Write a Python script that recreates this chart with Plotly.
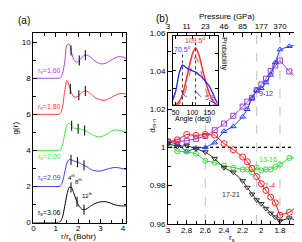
import plotly.graph_objects as go
import numpy as np

# ---------------- Panel (a): g(r) ----------------
r_grid = [0, 0.5, 1.0, 1.1, 1.2, 1.3, 1.4, 1.5, 1.6, 1.7, 1.8, 1.9, 2.0, 2.1, 2.2,
          2.3, 2.4, 2.5, 2.6, 2.8, 3.0, 3.2, 3.4, 3.6, 3.8, 4.0, 4.2]
g_rs160 = [0, 0, 0, 0, 0.02, 0.25, 0.9, 1.85, 1.9, 1.45, 1.05, 0.9, 0.92, 1.05, 1.2,
           1.28, 1.28, 1.22, 1.12, 0.92, 0.8, 0.82, 0.95, 1.1, 1.2, 1.18, 1.08]
g_rs180 = [0, 0, 0, 0, 0.05, 0.4, 1.3, 1.88, 1.6, 1.2, 0.98, 0.95, 1.02, 1.15, 1.25,
           1.3, 1.28, 1.2, 1.1, 0.9, 0.8, 0.78, 0.88, 1.02, 1.13, 1.16, 1.1]
g_rs200 = [0, 0, 0, 0, 0.03, 0.3, 0.9, 1.4, 1.5, 1.38, 1.25, 1.2, 1.2, 1.18, 1.15,
           1.1, 1.05, 0.97, 0.9, 0.78, 0.75, 0.85, 1.0, 1.13, 1.13, 1.05, 1.0]
g_rs209 = [0, 0, 0, 0, 0.02, 0.25, 0.8, 1.3, 1.5, 1.47, 1.42, 1.38, 1.33, 1.28, 1.22,
           1.15, 1.08, 1.0, 0.93, 0.86, 0.86, 0.93, 1.0, 1.05, 1.04, 0.98, 0.95]
g_rs306 = [0, 0, 0, 0, 0.05, 0.3, 0.9, 1.55, 1.95, 1.95, 1.65, 1.3, 1.0, 0.82, 0.72,
           0.72, 0.78, 0.86, 0.95, 1.08, 1.15, 1.16, 1.1, 1.0, 0.94, 0.92, 0.93]
curve_names = ["1.60", "1.80", "2.00", "2.09", "3.06"]
curve_offsets = [8, 6, 4, 2, 0]
curve_colors = ["#b044e6", "#ff3c3c", "#33ee33", "#3c3cff", "#000000"]
label_dy = [0.43, 0.38, -0.37, 0.45, 0.55]
neighbor_r = [[1.68, 2.05, 2.32], [1.65, 2.03, 2.32], [1.71, 2.0, 2.29],
              [1.68, 1.97, 2.26], [1.68, 1.95, 2.26]]
neighbor_labels = ["4<sup>th</sup>", "8<sup>th</sup>", "12<sup>th</sup>"]
neighbor_label_pos = [(1.72, 2.5), (2.02, 2.28), (2.42, 1.55)]

# ---------------- Panel (b): d_{m-n} ----------------
rs_b = [3.0, 2.9, 2.8, 2.7, 2.6, 2.5, 2.4, 2.3, 2.2, 2.15, 2.1, 2.05, 2.0, 1.95,
        1.9, 1.85, 1.8, 1.7, 1.6]
d_1_4 = [1.003, 1.004, 1.0068, 1.0063, 1.0068, 1.0065, 1.002, 0.9988, 0.995, 0.9925,
         0.989, 0.9847, 0.981, 0.9775, 0.974, 0.971, 0.9645, 0.966, 0.9697]
d_5_8 = [1.003, 1.003, 1.0035, 1.0045, 1.006, 1.009, 1.0125, 1.0166, 1.0214, 1.024,
         1.026, 1.030, 1.033, 1.036, 1.040, 1.043, 1.0455, 1.0398, 1.0354]
d_9_12 = [1.003, 1.0017, 0.9978, 0.9997, 1.0, 1.0025, 1.0085, 1.011, 1.016, 1.020,
          1.0258, 1.030, 1.031, 1.034, 1.038, 1.0445, 1.0513, 1.053, 1.054]
d_13_16 = [1.002, 0.998, 0.9978, 0.9968, 0.993, 0.992, 0.9905, 0.9893, 0.9885, 0.9885,
           0.987, 0.9895, 0.988, 0.9885, 0.9885, 0.9898, 0.991, 0.9945, 0.9945]
d_17_21 = [1.002, 1.0005, 1.001, 0.9993, 0.9976, 0.9942, 0.9894, 0.987, 0.9825, 0.979,
           0.9755, 0.9725, 0.9705, 0.968, 0.9655, 0.9635, 0.9615, 0.963, 0.9615]
pressure_tick_rs = [3.0, 2.8, 2.6, 2.4, 2.2, 2.0, 1.8]
pressure_labels = ["3", "11", "23", "46", "85", "177", "370"]
transition_rs = [2.6, 2.05, 1.8]

# ---------------- Inset: angle distribution ----------------
angle = [42, 50, 55, 60, 65, 70, 75, 80, 90, 100, 110, 120, 130, 140, 150, 160, 170, 180]
p_blue_solid = [0.08, 0.2, 0.32, 0.45, 0.53, 0.58, 0.57, 0.55, 0.52, 0.5, 0.48, 0.44,
                0.4, 0.34, 0.28, 0.18, 0.07, 0.0]
p_blue_dash = [0.1, 0.2, 0.26, 0.27, 0.24, 0.19, 0.15, 0.13, 0.14, 0.19, 0.2, 0.15,
               0.11, 0.09, 0.07, 0.05, 0.02, 0.0]
angle_red = [42, 50, 60, 70, 80, 90, 100, 109.5, 120, 130, 140, 150, 160, 170, 180]
p_red_solid = [0.0, 0.01, 0.05, 0.15, 0.33, 0.55, 0.74, 0.83, 0.72, 0.52, 0.33, 0.18,
               0.07, 0.02, 0.0]
p_red_inner = [0.0, 0.0, 0.02, 0.08, 0.22, 0.42, 0.6, 0.70, 0.6, 0.4, 0.22, 0.1, 0.03,
               0.0, 0.0]
special_angles = [70.5, 109.5]
special_heights = [0.78, 0.9]

FONT = "Liberation Sans, Arial, sans-serif"
W, H = 302, 242

def px(x):
    return x / W

def py(y):
    return 1 - y / H

fig = go.Figure()

# Panel (a) curves
for name, g, off, col, dy in zip(curve_names, [g_rs160, g_rs180, g_rs200, g_rs209, g_rs306],
                                 curve_offsets, curve_colors, label_dy):
    fig.add_trace(go.Scatter(x=r_grid, y=[v + off for v in g], mode="lines",
                             line=dict(color=col, width=1, shape="spline", smoothing=0.8),
                             xaxis="x", yaxis="y", showlegend=False))
    fig.add_annotation(x=0.12, y=off + dy, xref="x", yref="y", xanchor="left", yanchor="middle",
                       text=f"r<sub>s</sub>={name}", showarrow=False,
                       font=dict(size=7, color=col, family=FONT))

bx, by = [], []
for g, off, rt in zip([g_rs160, g_rs180, g_rs200, g_rs209, g_rs306], curve_offsets, neighbor_r):
    for r in rt:
        yc = float(np.interp(r, r_grid, g)) + off
        bx += [r, r, None]
        by += [yc - 0.28, yc + 0.28, None]
fig.add_trace(go.Scatter(x=bx, y=by, mode="lines", line=dict(color="black", width=1),
                         xaxis="x", yaxis="y", showlegend=False))
for lab, (lx, ly) in zip(neighbor_labels, neighbor_label_pos):
    fig.add_annotation(x=lx, y=ly, xref="x", yref="y", text=lab, showarrow=False,
                       xanchor="center", yanchor="middle",
                       font=dict(size=6, color="black", family=FONT))

# Panel (b)
series = [
    (d_5_8, "#a040d0", "square-open", 5, "5-8", 2.55, 1.026),
    (d_9_12, "#2040ff", "triangle-up-open", 5, "9-12", 1.955, 1.0285),
    (d_13_16, "#33dd33", "circle-open", 5, "13-16", 1.93, 0.9938),
    (d_1_4, "#ff2020", "circle-open", 6, "1-4", 1.91, 0.980),
    (d_17_21, "#303030", "triangle-down-open", 5, "17-21", 2.33, 0.9756),
]
for i, rs in enumerate(transition_rs):
    ytop = 1.021 if i == 0 else 1.06
    fig.add_trace(go.Scatter(x=[rs, rs], y=[0.96, ytop], mode="lines",
                             line=dict(color="#c8c8c8", width=1.2, dash="dash"),
                             xaxis="x2", yaxis="y2", showlegend=False))
fig.add_trace(go.Scatter(x=[rs_b[0], rs_b[-1]], y=[1, 1], mode="lines",
                         line=dict(color="black", width=1.2, dash="dot"),
                         xaxis="x2", yaxis="y2", showlegend=False))
for d, col, sym, msz, lab, lx, ly in series:
    fig.add_trace(go.Scatter(x=rs_b, y=d, mode="lines+markers",
                             line=dict(color=col, width=1),
                             marker=dict(symbol=sym, size=msz, color=col, line=dict(width=1, color=col)),
                             xaxis="x2", yaxis="y2", showlegend=False))
    fig.add_annotation(x=lx, y=ly, xref="x2", yref="y2", text=lab, showarrow=False,
                       xanchor="center", yanchor="middle",
                       font=dict(size=7, color=col, family=FONT))
# dummy trace for top pressure axis
fig.add_trace(go.Scatter(x=[rs_b[0]], y=[1], mode="markers", marker=dict(opacity=0),
                         xaxis="x3", yaxis="y2", showlegend=False, hoverinfo="skip"))

# Inset
fig.add_trace(go.Scatter(x=angle_red, y=p_red_solid, mode="lines",
                         line=dict(color="#ff3030", width=1.5, shape="spline", smoothing=0.5),
                         xaxis="x4", yaxis="y4", showlegend=False))
fig.add_trace(go.Scatter(x=angle_red, y=p_red_inner, mode="lines",
                         line=dict(color="#ff6060", width=1.2, dash="dash", shape="spline", smoothing=0.5),
                         xaxis="x4", yaxis="y4", showlegend=False))
fig.add_trace(go.Scatter(x=angle, y=p_blue_solid, mode="lines",
                         line=dict(color="#2020ff", width=1.3, shape="spline", smoothing=0.6),
                         xaxis="x4", yaxis="y4", showlegend=False))
fig.add_trace(go.Scatter(x=angle, y=p_blue_dash, mode="lines",
                         line=dict(color="#4040ff", width=1, dash="dash", shape="spline", smoothing=0.6),
                         xaxis="x4", yaxis="y4", showlegend=False))
for a, h in zip(special_angles, special_heights):
    fig.add_trace(go.Scatter(x=[a, a], y=[0, h], mode="lines",
                             line=dict(color="#333333", width=1, dash="dot"),
                             xaxis="x4", yaxis="y4", showlegend=False))
fig.add_annotation(x=70.5, y=0.82, xref="x4", yref="y4", text="70.5<sup>o</sup>", showarrow=False,
                   xanchor="center", yanchor="middle",
                   font=dict(size=7, color="#4040ff", family=FONT))
fig.add_annotation(x=109.5, y=0.95, xref="x4", yref="y4", text="109.5<sup>o</sup>", showarrow=False,
                   xanchor="center", yanchor="middle",
                   font=dict(size=7, color="#ff3030", family=FONT))

ax_common = dict(showline=True, linecolor="black", linewidth=1, ticks="inside",
                 tickcolor="black", ticklen=4, showgrid=False, zeroline=False,
                 ticklabeloverflow="allow",
                 tickfont=dict(size=8, family=FONT, color="black"))

fig.update_layout(
    width=W, height=H, margin=dict(l=0, r=0, t=0, b=0),
    paper_bgcolor="white", plot_bgcolor="white",
    font=dict(family=FONT, size=8, color="black"),
    xaxis=dict(domain=[px(24), px(119.5)], range=[0, 4.15], anchor="y",
               tickvals=[0, 1, 2, 3, 4], mirror="ticks", ticklabelstandoff=-2,
               minor=dict(dtick=0.5, ticklen=2.5, ticks="inside", tickcolor="black"), **ax_common),
    yaxis=dict(domain=[py(218.7), py(22)], range=[0, 10.5], anchor="x",
               tickvals=[0, 2, 4, 6, 8, 10], mirror="ticks",
               minor=dict(dtick=1, ticklen=2.5, ticks="inside", tickcolor="black"), **ax_common),
    xaxis2=dict(domain=[px(162.3), px(296.5)], range=[3, 1.6], anchor="y2",
                tickvals=[3, 2.8, 2.6, 2.4, 2.2, 2, 1.8, 1.6], ticklabelstandoff=-1,
                ticktext=["3", "2.8", "2.6", "2.4", "2.2", "2", "1.8", "1.6"],
                minor=dict(dtick=0.1, ticklen=2.5, ticks="inside", tickcolor="black"), **ax_common),
    xaxis3=dict(domain=[px(162.3), px(296.5)], range=[3, 1.6], anchor="y2", overlaying="x2",
                side="top", tickvals=pressure_tick_rs, ticktext=pressure_labels,
                minor=dict(dtick=0.1, ticklen=2.5, ticks="inside", tickcolor="black"), **ax_common),
    yaxis2=dict(domain=[py(220), py(21.7)], range=[0.96, 1.06], anchor="x2",
                tickvals=[0.96, 0.98, 1, 1.02, 1.04, 1.06],
                ticktext=["0.96", "0.98", "1", "1.02", "1.04", "1.06"], mirror="ticks",
                minor=dict(dtick=0.01, ticklen=2.5, ticks="inside", tickcolor="black"), **ax_common),
    xaxis4=dict(domain=[px(167.3), px(213.3)], range=[42, 175], anchor="y4",
                tickvals=[50, 100, 150], mirror="ticks",
                **{**ax_common, "tickfont": dict(size=7, family=FONT, color="black"), "ticklen": 3}),
    yaxis4=dict(domain=[py(97), py(25)], range=[0, 1], anchor="x4",
                tickvals=[0.25, 0.5, 0.75], showticklabels=False, mirror="ticks",
                **{**ax_common, "ticklen": 3}),
)

# Axis titles / labels
ann = [
    dict(x=px(14), y=py(9), text="(a)", size=10, angle=0),
    dict(x=px(156), y=py(7), text="(b)", size=10, angle=0),
    dict(x=px(70), y=py(234), text="r/r<sub>s</sub> (Bohr)", size=8, angle=0),
    dict(x=px(228), y=py(234.5), text="r<sub>s</sub>", size=8, angle=0),
    dict(x=px(6), y=py(120), text="g(r)", size=8, angle=-90),
    dict(x=px(146), y=py(118), text="d<sub>m-n</sub>", size=8, angle=-90),
    dict(x=px(223), y=py(5), text="Pressure (GPa)", size=8, angle=0),
    dict(x=px(188), y=py(111), text="Angle (deg)", size=7, angle=0),
    dict(x=px(219), y=py(43), text="Probability", size=7, angle=90),
]
for a in ann:
    fig.add_annotation(x=a["x"], y=a["y"], xref="paper", yref="paper", text=a["text"],
                       showarrow=False, textangle=a["angle"], xanchor="center", yanchor="middle",
                       font=dict(size=a["size"], family=FONT, color="black"))

fig.write_html("out.html")
